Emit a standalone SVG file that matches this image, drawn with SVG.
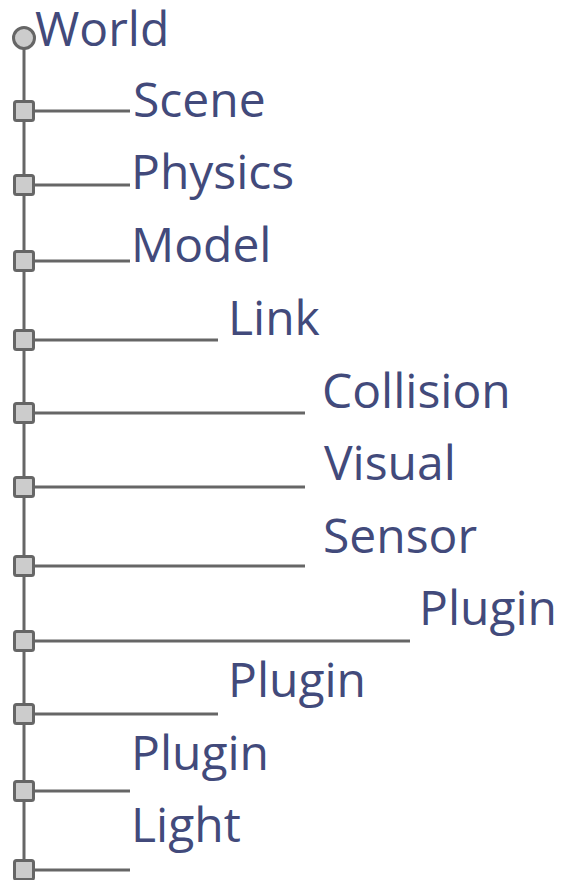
<svg xmlns="http://www.w3.org/2000/svg" width="562" height="880" viewBox="0 0 562 880">
  <style>
    .wire { stroke: #666666; stroke-width: 3; fill: none; }
    .box { fill: #cccccc; stroke: #666666; stroke-width: 3; }
    .label { font-family: "Open Sans", Lato, sans-serif; font-size: 48px; fill: #424a7b; }
  </style>
  <rect width="562" height="880" fill="#ffffff"/>
  <g id="connectors">
    <line class="wire" x1="24" y1="49" x2="24" y2="880"/>
    <line class="wire" x1="33" y1="111" x2="130" y2="111"/>
    <line class="wire" x1="33" y1="185" x2="130" y2="185"/>
    <line class="wire" x1="33" y1="261" x2="130" y2="261"/>
    <line class="wire" x1="33" y1="340" x2="218" y2="340"/>
    <line class="wire" x1="33" y1="413" x2="305" y2="413"/>
    <line class="wire" x1="33" y1="487" x2="305" y2="487"/>
    <line class="wire" x1="33" y1="566" x2="305" y2="566"/>
    <line class="wire" x1="33" y1="641" x2="410" y2="641"/>
    <line class="wire" x1="33" y1="714" x2="218" y2="714"/>
    <line class="wire" x1="33" y1="791" x2="130" y2="791"/>
    <line class="wire" x1="33" y1="870" x2="130" y2="870"/>
  </g>
  <g id="world">
    <circle class="box" cx="24" cy="38" r="10.5"/>
    <text class="label" x="35" y="46">World</text>
  </g>
  <g id="scene">
    <rect class="box" x="14.5" y="101.5" width="19" height="19" rx="2"/>
    <text class="label" x="133" y="117">Scene</text>
  </g>
  <g id="physics">
    <rect class="box" x="14.5" y="175.5" width="19" height="19" rx="2"/>
    <text class="label" x="131" y="189">Physics</text>
  </g>
  <g id="model">
    <rect class="box" x="14.5" y="251.5" width="19" height="19" rx="2"/>
    <text class="label" x="131" y="262">Model</text>
  </g>
  <g id="link">
    <rect class="box" x="14.5" y="330.5" width="19" height="19" rx="2"/>
    <text class="label" x="228" y="335">Link</text>
  </g>
  <g id="collision">
    <rect class="box" x="14.5" y="403.5" width="19" height="19" rx="2"/>
    <text class="label" x="322" y="408">Collision</text>
  </g>
  <g id="visual">
    <rect class="box" x="14.5" y="477.5" width="19" height="19" rx="2"/>
    <text class="label" x="324" y="480">Visual</text>
  </g>
  <g id="sensor">
    <rect class="box" x="14.5" y="556.5" width="19" height="19" rx="2"/>
    <text class="label" x="323" y="553">Sensor</text>
  </g>
  <g id="plugin-sensor">
    <rect class="box" x="14.5" y="631.5" width="19" height="19" rx="2"/>
    <text class="label" x="419" y="625">Plugin</text>
  </g>
  <g id="plugin-model">
    <rect class="box" x="14.5" y="704.5" width="19" height="19" rx="2"/>
    <text class="label" x="228" y="697">Plugin</text>
  </g>
  <g id="plugin-world">
    <rect class="box" x="14.5" y="781.5" width="19" height="19" rx="2"/>
    <text class="label" x="131" y="770">Plugin</text>
  </g>
  <g id="light">
    <rect class="box" x="14.5" y="860.5" width="19" height="19" rx="2"/>
    <text class="label" x="131" y="842">Light</text>
  </g>
</svg>
